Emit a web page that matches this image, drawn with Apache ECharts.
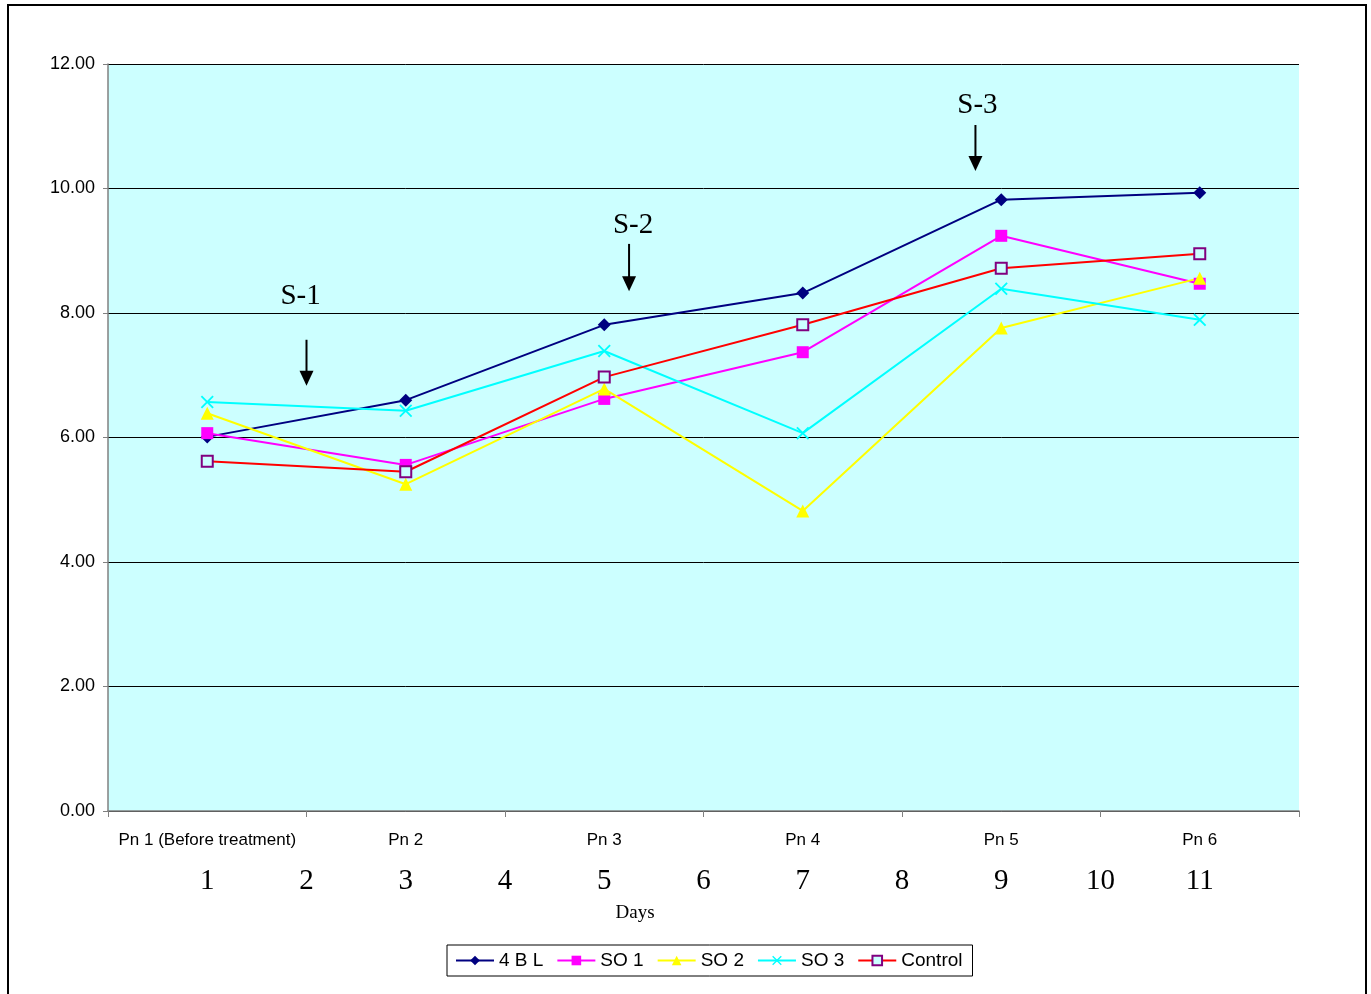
<!DOCTYPE html>
<html><head><meta charset="utf-8">
<script src="https://cdn.jsdelivr.net/npm/echarts@6/dist/echarts.min.js"></script>
<style>html,body{margin:0;padding:0;background:#fff}#c{width:1371px;height:994px}</style>
</head><body><div id="c"></div>
<script>
const categories = ['Pn 1 (Before treatment)','Pn 2','Pn 3','Pn 4','Pn 5','Pn 6'];
const dayTicks = [1,2,3,4,5,6,7,8,9,10,11];
const s4BL    = [6.01, 6.60, 7.81, 8.32, 9.82, 9.93];
const sSO1    = [6.07, 5.56, 6.62, 7.37, 9.24, 8.47];
const sSO2    = [6.39, 5.25, 6.78, 4.82, 7.76, 8.56];
const sSO3    = [6.57, 6.43, 7.39, 6.07, 8.39, 7.89];
const sControl= [5.62, 5.45, 6.97, 7.81, 8.72, 8.95];
const annotations = [
  {label:'S-1', day:2.0, text:8.26, top:7.57, tip:6.83, tx:1.94},
  {label:'S-2', day:5.25, text:9.41, top:9.11, tip:8.35, tx:5.29},
  {label:'S-3', day:8.74, text:11.33, top:11.02, tip:10.28, tx:8.76}
];
const xPath = 'path://M0,1L1,0L5,4L9,0L10,1L6,5L10,9L9,10L5,6L1,10L0,9L4,5Z';

const chart = echarts.init(document.getElementById('c'));
function mk(name, data, color, symbol, size, extra) {
  return Object.assign({
    name, type:'line', data, symbol, symbolSize:size, showSymbol:true,
    lineStyle:{color, width:2}, itemStyle:{color}, animation:false, z:3
  }, extra||{});
}
chart.setOption({
  animation:false,
  grid:{left:108, right:72, top:64, bottom:183, show:true, backgroundColor:'#CCFFFF', borderWidth:0},
  xAxis:[{
    type:'category', data:categories, boundaryGap:true,
    axisLine:{lineStyle:{color:'#808080', width:1.5}},
    axisTick:{show:true, length:6, lineStyle:{color:'#808080'}},
    axisLabel:{color:'#000', fontFamily:'Arial', fontSize:17, margin:21, interval:0}
  },{
    type:'value', min:0, max:12, interval:1, position:'bottom', offset:52,
    axisLine:{show:false}, axisTick:{show:false}, splitLine:{show:false},
    axisLabel:{color:'#000', fontFamily:'Liberation Serif', fontSize:29, margin:4,
      formatter:v => dayTicks.indexOf(v) >= 0 ? String(v) : ''}
  }],
  yAxis:{
    type:'value', min:0, max:12, interval:2,
    axisLine:{show:true, lineStyle:{color:'#808080', width:1.5}},
    axisTick:{show:true, length:5, lineStyle:{color:'#808080'}},
    splitLine:{lineStyle:{color:'#000', width:1}},
    axisLabel:{color:'#000', fontFamily:'Arial', fontSize:18, margin:13, formatter:v=>v.toFixed(2)}
  },
  legend:{
    bottom:18, left:447, itemWidth:38, itemHeight:12, itemGap:13,
    borderColor:'#000', borderWidth:1, padding:[6,10,6,8], borderRadius:0,
    textStyle:{color:'#000', fontFamily:'Arial', fontSize:19}
  },
  series:[
    mk('4 B L', s4BL, '#000080', 'diamond', 13),
    mk('SO 1', sSO1, '#FF00FF', 'rect', 12),
    mk('SO 2', sSO2, '#FFFF00', 'triangle', 13),
    mk('SO 3', sSO3, '#00FFFF', xPath, 13),
    mk('Control', sControl, '#FF0000', 'rect', 11, {
      itemStyle:{color:'#CCFFFF', borderColor:'#800080', borderWidth:2}
    })
  ]
});

const g = [{type:'rect', shape:{x:8, y:5, width:1358, height:1000}, style:{fill:'none', stroke:'#000', lineWidth:2}, silent:true, z:-1}];
annotations.forEach(a => {
  const pt = chart.convertToPixel({xAxisIndex:1, yAxisIndex:0}, [a.tx, a.text]);
  const p1 = chart.convertToPixel({xAxisIndex:1, yAxisIndex:0}, [a.day, a.top]);
  const p2 = chart.convertToPixel({xAxisIndex:1, yAxisIndex:0}, [a.day, a.tip]);
  g.push({type:'text', x:pt[0], y:pt[1], z:10, style:{text:a.label, fill:'#000', font:'29px "Liberation Serif"', align:'center', verticalAlign:'middle'}});
  g.push({type:'line', z:10, shape:{x1:p1[0], y1:p1[1], x2:p2[0], y2:p2[1]-12}, style:{stroke:'#000', lineWidth:2}});
  g.push({type:'polygon', z:10, shape:{points:[[p2[0]-7,p2[1]-15],[p2[0]+7,p2[1]-15],[p2[0],p2[1]]]}, style:{fill:'#000'}});
});
const dp = chart.convertToPixel({xAxisIndex:1, yAxisIndex:0}, [5.31, 0]);
g.push({type:'text', x:dp[0], y:913, style:{text:'Days', fill:'#000', font:'19px "Liberation Serif"', align:'center', verticalAlign:'middle'}});
chart.setOption({graphic:g});
</script></body></html>
